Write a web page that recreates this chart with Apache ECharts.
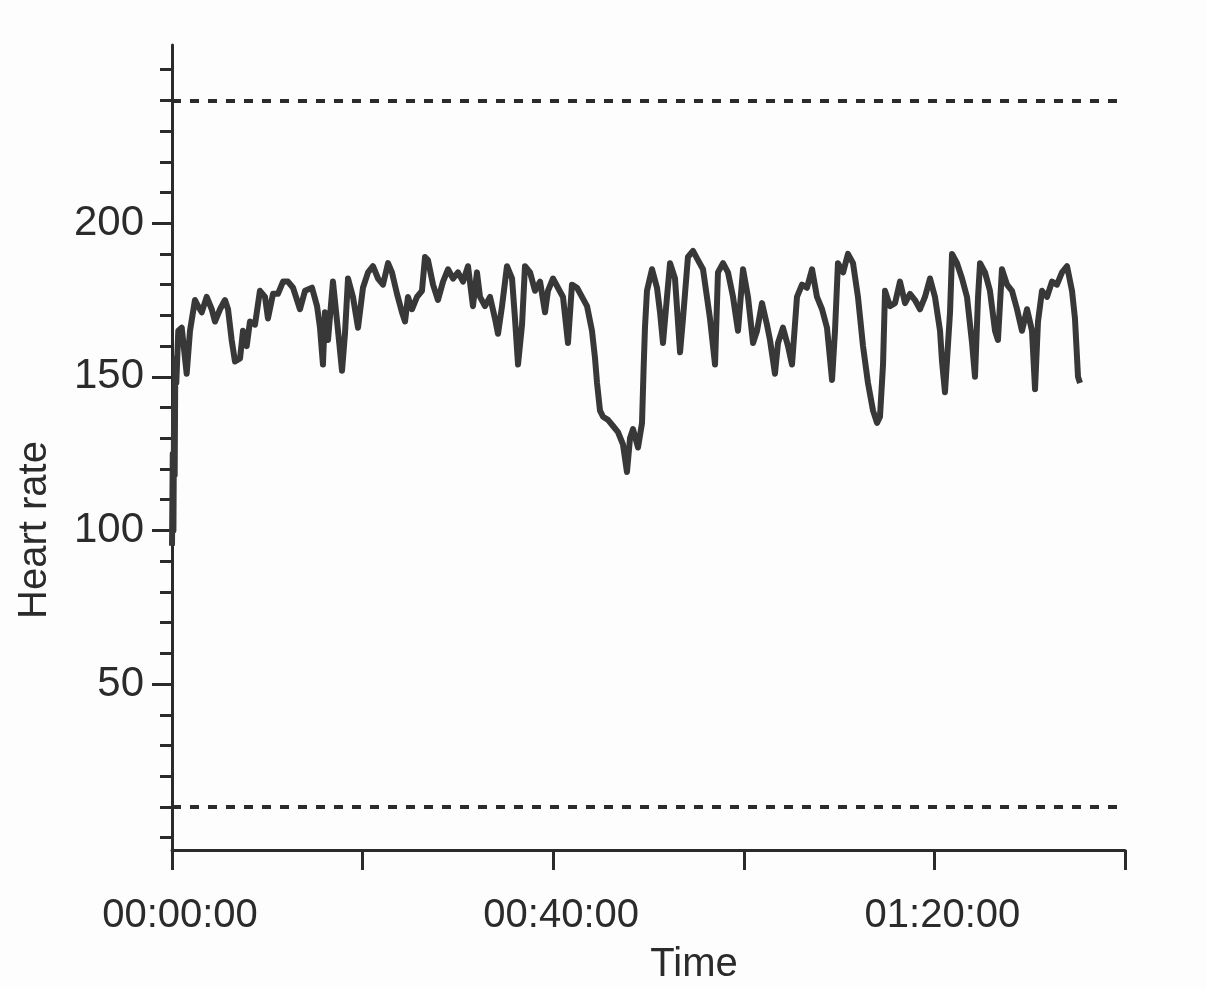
<!DOCTYPE html>
<html>
<head>
<meta charset="utf-8">
<script src="https://cdn.jsdelivr.net/npm/echarts@6/dist/echarts.min.js"></script>
<style>
  html, body { margin: 0; padding: 0; background: #fdfdfd; }
  #chart { width: 1206px; height: 989px; }
</style>
</head>
<body>
<div id="chart"></div>
<script>
// elapsed time in minutes, heart rate in bpm
const timeMin = [
  0, 0.08, 0.15, 0.22, 0.28, 0.35, 0.45, 0.66, 1.02, 1.54, 1.89, 2.41, 2.73, 3.12, 3.64, 4.17, 4.51, 5.04, 5.56, 5.88,
  6.26, 6.61, 7.14, 7.45, 7.84, 8.18, 8.71, 9.23, 9.76, 10.07, 10.60, 11.12, 11.65, 12.17, 12.70, 13.43, 13.96, 14.69, 15.22, 15.53,
  15.84, 16.05, 16.37, 16.89, 17.42, 17.84, 18.15, 18.47, 18.99, 19.52, 20.04, 20.57, 21.09, 21.62, 22.14, 22.67, 23.08, 23.61, 24.13, 24.45,
  24.76, 25.18, 25.71, 26.23, 26.55, 26.86, 27.39, 27.91, 28.44, 28.96, 29.49, 30.01, 30.54, 31.06, 31.58, 32.00, 32.32, 32.84, 33.37, 33.89,
  34.21, 34.63, 35.15, 35.68, 35.99, 36.31, 36.73, 37.04, 37.57, 38.09, 38.62, 39.14, 39.45, 39.98, 40.50, 41.03, 41.55, 41.97, 42.50, 43.02,
  43.55, 44.07, 44.39, 44.60, 44.91, 45.23, 45.75, 46.28, 46.80, 47.32, 47.74, 48.06, 48.37, 48.90, 49.32, 49.48, 49.63, 49.84, 50.37, 50.89,
  51.21, 51.52, 51.94, 52.26, 52.78, 53.31, 53.62, 54.14, 54.67, 55.19, 55.72, 56.45, 56.98, 57.29, 57.82, 58.34, 58.87, 59.39, 59.92, 60.44,
  60.97, 61.39, 61.91, 62.43, 62.75, 63.27, 63.59, 64.11, 64.64, 65.06, 65.58, 66.11, 66.63, 67.16, 67.68, 68.21, 68.73, 69.26, 69.57, 69.88,
  70.42, 70.93, 71.46, 71.98, 72.51, 73.03, 73.56, 73.98, 74.29, 74.61, 74.82, 75.34, 75.87, 76.39, 76.92, 77.44, 77.96, 78.49, 79.01, 79.54,
  80.06, 80.59, 80.80, 81.11, 81.64, 81.85, 82.37, 82.90, 83.42, 83.95, 84.26, 84.58, 84.79, 85.31, 85.83, 86.36, 86.67, 87.09, 87.62, 88.14,
  88.67, 89.19, 89.72, 90.24, 90.56, 90.87, 91.29, 91.82, 92.34, 92.86, 93.39, 93.92, 94.44, 94.75, 95.07, 95.28
]
const heartRate = [
  95, 125, 100, 140, 118, 156, 148, 165, 166, 151, 165, 175, 173, 171, 176, 172, 168, 172, 175, 172,
  162, 155, 156, 165, 160, 168, 167, 178, 176, 169, 177, 177, 181, 181, 179, 172, 178, 179, 173, 166,
  154, 171, 162, 181, 165, 152, 164, 182, 176, 166, 179, 184, 186, 182, 180, 187, 184, 177, 171, 168,
  176, 172, 176, 178, 189, 188, 180, 175, 181, 185, 182, 184, 181, 186, 173, 184, 176, 173, 176, 169,
  164, 173, 186, 182, 169, 154, 167, 186, 184, 178, 181, 171, 178, 182, 179, 176, 161, 180, 179, 176,
  173, 165, 156, 148, 139, 137, 136, 134, 132, 128, 119, 130, 133, 127, 135, 152, 166, 178, 185, 179,
  171, 161, 176, 187, 182, 158, 169, 189, 191, 188, 185, 169, 154, 184, 187, 184, 176, 165, 185, 176,
  161, 165, 174, 167, 162, 151, 161, 166, 160, 154, 176, 180, 179, 185, 176, 172, 166, 149, 165, 187,
  184, 190, 187, 176, 160, 148, 139, 135, 137, 154, 178, 173, 174, 181, 174, 177, 175, 172, 176, 182,
  176, 165, 155, 145, 171, 190, 187, 182, 176, 161, 150, 176, 187, 184, 178, 165, 162, 185, 180, 178,
  172, 165, 172, 165, 146, 168, 178, 176, 181, 180, 184, 186, 178, 169, 150, 148
]
const limitLines = [10, 240]
const yMinorTicks = [0, 10, 20, 30, 40, 50, 60, 70, 80, 90, 100, 110, 120, 130, 140, 150, 160, 170, 180, 190, 200, 210, 220, 230, 240, 250]
const yLabels = [50, 100, 150, 200]
const xLabels = [0, 40, 80]

const ink = '#2b2b2b'
const font = '"Liberation Sans", Arial, sans-serif'

const fmtTime = (min) => {
  const pad = (n) => String(n).padStart(2, '0')
  const h = Math.floor(min / 60)
  const m = Math.round(min % 60)
  return `${pad(h)}:${pad(m)}:00`
}

const chart = echarts.init(document.getElementById('chart'))
chart.setOption({
  animation: false,
  backgroundColor: '#fdfdfd',
  grid: { left: 172, right: 81, top: 45, bottom: 139 },
  xAxis: {
    type: 'value',
    min: 0,
    max: 100,
    interval: 20,
    axisLine: { onZero: false, lineStyle: { color: ink, width: 3 } },
    axisTick: { length: 20, lineStyle: { color: ink, width: 3 } },
    axisLabel: {
      customValues: xLabels,
      formatter: fmtTime,
      margin: 46,
      padding: [0, 0, 0, 16],
      color: ink,
      fontSize: 40,
      fontFamily: font
    },
    splitLine: { show: false }
  },
  yAxis: [
    {
      type: 'value',
      position: 'left',
      min: -4,
      max: 258,
      axisLine: { show: true, onZero: false, lineStyle: { color: ink, width: 3 } },
      axisTick: { show: true, customValues: yMinorTicks, length: 12, lineStyle: { color: ink, width: 3 } },
      axisLabel: { show: false },
      splitLine: { show: false }
    },
    {
      type: 'value',
      position: 'left',
      min: -4,
      max: 258,
      axisLine: { show: false, onZero: false },
      axisTick: { show: true, customValues: yLabels, length: 20, lineStyle: { color: ink, width: 3 } },
      axisLabel: {
        customValues: yLabels,
        margin: 28,
        color: ink,
        fontSize: 42,
        fontFamily: font
      },
      splitLine: { show: false }
    }
  ],
  graphic: [
    {
      type: 'text',
      x: 35,
      y: 530,
      rotation: Math.PI / 2,
      style: { text: 'Heart rate', fill: ink, font: `40px ${font}`, textAlign: 'center', textVerticalAlign: 'middle' }
    },
    {
      type: 'text',
      x: 694,
      y: 965,
      style: { text: 'Time', fill: ink, font: `40px ${font}`, textAlign: 'center', textVerticalAlign: 'middle' }
    }
  ],
  series: [
    {
      type: 'line',
      yAxisIndex: 0,
      showSymbol: false,
      smooth: false,
      data: timeMin.map((t, i) => [t, heartRate[i]]),
      lineStyle: { color: '#383838', width: 6, join: 'round' },
      markLine: {
        silent: true,
        symbol: 'none',
        label: { show: false },
        lineStyle: { color: ink, width: 4, type: [9, 9] },
        data: limitLines.map(v => ({ yAxis: v }))
      }
    }
  ]
})
</script>
</body>
</html>
